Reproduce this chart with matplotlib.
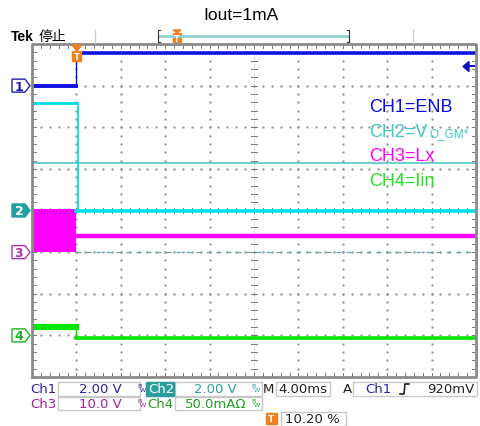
import numpy as np
import matplotlib.pyplot as plt
from matplotlib.patches import Polygon, Rectangle

W, H = 481, 427

# scope settings
ch_scale = [2.0, 2.0, 10.0, 50.0]     # V/div, V/div, V/div, mA/div
ch_offset = [3.0, 0.0, -1.0, -3.0]    # ground position in divisions
ms_per_div = 4.0
t_first = -4.0                        # ms at left edge of screen

# traces (time in ms, value in channel units)
t_pre = [-4.0, 0.0]
t_post = [0.0, 36.0]
ch1_pre = [0.0, 0.0]
ch1_post = [1.55, 1.55]
ch2_pre = [5.15, 5.15]
ch2_post = [0.0, 0.0]
ch3_pre_low = [0.0, 0.0]
ch3_pre_high = [10.4, 10.4]
ch3_post = [3.8, 3.8]
ch4_pre = [10.0, 10.0]
ch4_post = [-3.5, -3.5]
trig_level = 0.92      # V on ch1
cursor_ch2 = 2.3       # V on ch2

trace_colors = ['#1010e0', '#00e0ea', '#ff00ff', '#00e600']


def xdiv(t):
    return [(v - t_first) / ms_per_div - 5 for v in t]


def ydiv(vals, ch):
    return [v / ch_scale[ch] + ch_offset[ch] for v in vals]


fig = plt.figure(figsize=(W / 100, H / 100), dpi=100)
fig.patch.set_facecolor('white')

L, R, T, B = 32, 476, 45, 378
ax = fig.add_axes([L / W, 1 - B / H, (R - L) / W, (B - T) / H])
ax.set_xlim(-5, 5)
ax.set_ylim(-4, 4)
ax.axis('off')

# graticule
fine = np.arange(-5, 5.01, 0.2)
fine_y = np.arange(-4, 4.01, 0.2)
for gx in range(-4, 5):
    if gx == 0:
        continue
    ax.plot([gx] * len(fine_y), fine_y, ls='none', marker='.', ms=1.5,
            color='#9a9a9a', zorder=1)
for gy in range(-3, 4):
    if gy == 0:
        continue
    ax.plot(fine, [gy] * len(fine), ls='none', marker='.', ms=1.5,
            color='#9a9a9a', zorder=1)
ax.plot([0, 0], [-4, 4], color='#b0b0b0', lw=0.6, ls=(0, (1, 2)), zorder=1)
ax.plot([-5, 5], [0, 0], color='#b0b0b0', lw=0.6, ls=(0, (1, 2)), zorder=1)
for v in fine:
    ax.plot([v, v], [-0.07, 0.07], color='#777777', lw=0.7, zorder=1)
    ax.plot([v, v], [-4, -3.9], color='#777777', lw=0.7, zorder=1)
    ax.plot([v, v], [4, 3.9], color='#777777', lw=0.7, zorder=1)
for v in fine_y:
    ax.plot([-0.07, 0.07], [v, v], color='#777777', lw=0.7, zorder=1)
    ax.plot([-5, -4.92], [v, v], color='#777777', lw=0.7, zorder=1)
    ax.plot([5, 4.92], [v, v], color='#777777', lw=0.7, zorder=1)
ax.plot([-5, 5, 5, -5, -5], [-4, -4, 4, 4, -4], color='#8a8a8a', lw=2,
        zorder=6, clip_on=False)

# cursor and ch3 reference
ax.axhline(ydiv([cursor_ch2], 1)[0], color='#40c4c4', lw=1.1, zorder=2)
ax.plot(xdiv(t_post), [ch_offset[2]] * 2, color='#5aa8a8', lw=0.9,
        ls=(0, (4, 4)), zorder=2)

# ch4
ax.plot(xdiv(t_pre), ydiv(ch4_pre, 3), color=trace_colors[3], lw=4.5,
        zorder=3)
ax.plot(xdiv(t_post), ydiv(ch4_post, 3), color=trace_colors[3], lw=2.6,
        zorder=3)
ax.plot(xdiv([0, 0]), ydiv([ch4_pre[-1], ch4_post[0]], 3),
        color=trace_colors[3], lw=1, zorder=3)
# ch3
ax.fill_between(xdiv(t_pre), ydiv(ch3_pre_low, 2), ydiv(ch3_pre_high, 2),
                color=trace_colors[2], lw=0, zorder=3)
ax.plot(xdiv(t_post), ydiv(ch3_post, 2), color=trace_colors[2], lw=3.2,
        zorder=3)
# ch2
ax.plot(xdiv(t_pre), ydiv(ch2_pre, 1), color=trace_colors[1], lw=2, zorder=4)
ax.plot(xdiv(t_post), ydiv(ch2_post, 1), color=trace_colors[1], lw=2.6,
        zorder=4)
ax.plot(xdiv([0.1, 0.1]), ydiv([ch2_pre[-1], ch2_post[0]], 1),
        color=trace_colors[1], lw=1.3, zorder=4)
# ch1
ax.plot(xdiv(t_pre), ydiv(ch1_pre, 0), color=trace_colors[0], lw=2.8, zorder=5)
ax.plot(xdiv(t_post), ydiv(ch1_post, 0), color=trace_colors[0], lw=2.6,
        zorder=5)
ax.plot(xdiv([0, 0]), ydiv([ch1_pre[-1], ch1_post[0]], 0),
        color=trace_colors[0], lw=1, zorder=5)

# legend text in screen
leg_txt = ['CH1=ENB', 'CH2=V', 'CH3=Lx', 'CH4=Iin']
leg_colors = ['#0a0ae6', '#3cc8c8', '#ff00ff', '#22e022']
leg_y = [107, 133, 157, 182]

# overlay in pixel coordinates for the scope chrome
ov = fig.add_axes([0, 0, 1, 1], zorder=10)
ov.set_xlim(0, W)
ov.set_ylim(H, 0)
ov.axis('off')
ov.patch.set_alpha(0)

for txt, c, y in zip(leg_txt, leg_colors, leg_y):
    ov.text(369, y, txt, color=c, fontsize=13, family='Liberation Sans',
            va='center', ha='left')
ov.text(430, 134, 'O_GM*', color=leg_colors[1], fontsize=8.5,
        family='Liberation Sans', va='center', ha='left')

# title and top bar
ov.text(241, 15, 'Iout=1mA', fontsize=12.5, family='Liberation Sans',
        ha='center', va='center')
ov.text(11, 37, 'Tek', fontsize=10, fontweight='bold',
        family='Liberation Sans', va='center')
ov.text(39, 37, '停止', fontsize=10, family='Noto Sans CJK SC', va='center')
for gx in [95, 413]:
    ov.plot([gx, gx], [31, 44], color='#cccccc', lw=1)
ov.plot([160, 348], [37, 37], color='#8fd2d2', lw=2)
ov.plot([160, 158, 158, 160], [31, 31, 43, 43], color='#333333', lw=0.8)
ov.plot([347, 349, 349, 347], [31, 31, 43, 43], color='#333333', lw=0.8)
ov.add_patch(Polygon([[173, 31], [181, 31], [177, 34]], color='#f08020'))
ov.add_patch(Rectangle((173, 34), 8, 9, color='#f08020'))
ov.text(177, 39, 'T', color='white', fontsize=5.5, fontweight='bold',
        ha='center', va='center')

# trigger position marker on screen
ov.add_patch(Polygon([[72, 46], [82, 46], [77, 52]], color='#f08020',
                     zorder=8))
ov.add_patch(Rectangle((72.5, 52), 9, 10, color='#f08020', zorder=8))
ov.text(77, 57.5, 'T', color='white', fontsize=6, fontweight='bold',
        ha='center', va='center', zorder=9)

# trigger level arrow on right edge
ytr = T + (4 - ydiv([trig_level], 0)[0]) * (B - T) / 8
ov.add_patch(Polygon([[463, ytr], [469, ytr - 5], [469, ytr + 5]],
                     color='#1010c0', zorder=8))
ov.plot([467, 474], [ytr, ytr], color='#1010c0', lw=1.5, zorder=8)

# channel ground markers
mk_face = ['white', '#20a0a0', 'white', 'white']
mk_edge = ['#2020b0', '#20a0a0', '#b030b0', '#20b020']
mk_txt = ['#2020b0', 'white', '#b030b0', '#20b020']
for i in range(4):
    yg = T + (4 - ch_offset[i]) * (B - T) / 8
    ov.add_patch(Polygon([[12, yg - 6.5], [25, yg - 6.5], [30, yg],
                          [25, yg + 6.5], [12, yg + 6.5]],
                         facecolor=mk_face[i], edgecolor=mk_edge[i], lw=1))
    ov.text(19, yg + 0.5, str(i + 1), color=mk_txt[i], fontsize=9,
            fontweight='bold', ha='center', va='center')

# bottom readout
box_c = '#c8c8c8'
fs = 9.5
fam = 'DejaVu Sans'


def box(x0, x1, y0, y1):
    ov.add_patch(Rectangle((x0, y0), x1 - x0, y1 - y0, fill=False,
                           edgecolor=box_c, lw=1))


box(58, 140, 383, 397)
box(175, 262, 383, 397)
box(276, 330, 383, 397)
box(353, 477, 383, 397)
box(58, 140, 398, 411)
box(175, 262, 398, 411)
box(281, 346, 413, 427)

c1, c2, c3, c4 = '#24249c', '#2aa0a0', '#a020a0', '#20a020'
ov.text(30, 390, 'Ch1', color=c1, fontsize=fs, family=fam, va='center')
ov.text(100, 390, '2.00 V', color=c1, fontsize=fs, family=fam, va='center',
        ha='center')
ov.add_patch(Rectangle((146, 383), 28, 14, color='#2a9d9d'))
ov.text(148, 390, 'Ch2', color='white', fontsize=fs, family=fam,
        va='center')
ov.text(215, 390, '2.00 V', color=c2, fontsize=fs, family=fam, va='center',
        ha='center')
ov.text(263, 390, 'M', color='#222222', fontsize=fs, family=fam,
        va='center')
ov.text(303, 390, '4.00ms', color='#222222', fontsize=fs, family=fam,
        va='center', ha='center')
ov.text(343, 390, 'A', color='#222222', fontsize=fs, family=fam,
        va='center')
ov.text(365, 390, 'Ch1', color=c1, fontsize=fs, family=fam, va='center')
ov.plot([400, 404, 405, 409], [395, 395, 385, 385], color='#222222', lw=1.2)
ov.text(474, 390, '920mV', color='#222222', fontsize=fs, family=fam,
        va='center', ha='right')
for bx, c in [(137, c1), (251, c2), (137, c3), (251, c4)]:
    by = 387 if c in (c1, c2) else 402
    ov.text(bx, by, 'B', color=c, fontsize=4.5, family=fam, va='center')
    ov.text(bx + 3, by + 4, 'W', color=c, fontsize=4.5, family=fam,
            va='center')
ov.text(30, 405, 'Ch3', color=c3, fontsize=fs, family=fam, va='center')
ov.text(100, 405, '10.0 V', color=c3, fontsize=fs, family=fam, va='center',
        ha='center')
ov.text(147, 405, 'Ch4', color=c4, fontsize=fs, family=fam, va='center')
ov.text(185, 405, '50.0mAΩ', color=c4, fontsize=fs, family=fam,
        va='center')
ov.add_patch(Rectangle((266, 414), 11, 11, color='#f08020'))
ov.text(271.5, 419.5, 'T', color='white', fontsize=6.5, fontweight='bold',
        ha='center', va='center')
ov.text(285, 420, '10.20 %', color='#222222', fontsize=fs, family=fam,
        va='center')

fig.savefig('out.png', dpi=100, facecolor='white')
